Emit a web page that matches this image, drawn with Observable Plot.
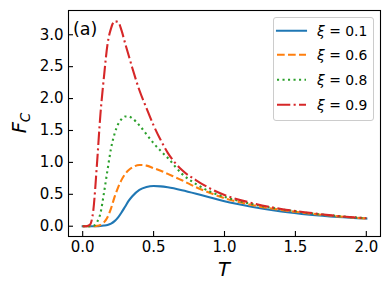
<!DOCTYPE html>
<html><head><meta charset="utf-8">
<script src="https://cdn.jsdelivr.net/npm/d3@7"></script>
<script src="https://cdn.jsdelivr.net/npm/@observablehq/plot@0.6"></script>
<style>
body{margin:0;background:#fff}
#wrap{position:relative;width:390px;height:290px;font-family:"DejaVu Sans",sans-serif}
#legend{position:absolute;left:272.5px;top:17px;width:101px;height:104px;box-sizing:border-box;border:1px solid #cccccc;border-radius:3px;background:rgba(255,255,255,0.8)}
#legend svg{position:absolute;left:-1px;top:-1px}
</style>
</head><body><div id="wrap"></div>
<script>
const T = [0,0.025,0.05,0.075,0.1,0.125,0.15,0.175,0.2,0.225,0.25,0.275,0.3,0.325,0.35,0.4,0.45,0.5,0.55,0.6,0.7,0.8,0.9,1.0,1.2,1.4,1.6,1.8,2.0];
const xi01 = [0,0,0,0,0,0.003,0.01,0.02,0.04,0.08,0.14,0.22,0.31,0.40,0.47,0.57,0.615,0.63,0.625,0.61,0.565,0.51,0.45,0.39,0.30,0.23,0.18,0.145,0.12];
const xi06 = [0,0,0,0,0.005,0.02,0.06,0.14,0.28,0.46,0.61,0.73,0.82,0.88,0.92,0.96,0.95,0.91,0.87,0.82,0.72,0.61,0.52,0.44,0.33,0.255,0.2,0.155,0.122];
const xi08 = [0,0,0,0.005,0.06,0.2,0.52,0.88,1.22,1.45,1.60,1.68,1.72,1.72,1.69,1.58,1.44,1.30,1.18,1.07,0.82,0.66,0.54,0.46,0.345,0.265,0.205,0.16,0.125];
const xi09 = [0,0,0.02,0.25,0.95,1.75,2.34,2.85,3.10,3.21,3.20,3.06,2.86,2.67,2.48,2.13,1.85,1.58,1.35,1.15,0.88,0.72,0.59,0.49,0.36,0.27,0.21,0.16,0.125];
const seriesLabels = ["0.1","0.6","0.8","0.9"];
const seriesValues = [xi01, xi06, xi08, xi09];
const colors = ["#1f77b4","#ff7f0e","#2ca02c","#d62728"];
const dashes = [null, "7.7,3.3", "2.1,3.4", "13.3,3.3,2.1,3.3"];
const xTicks = [0,0.5,1,1.5,2];
const yTicks = [0,0.5,1,1.5,2,2.5,3];

const W = 390, H = 290, mL = 68, mR = 10, mT = 10, mB = 54;
const innerW = W - mL - mR, innerH = H - mT - mB;

const lineMarks = seriesValues.map((vals, i) =>
  Plot.line(T.map((t, j) => ({T: t, F: vals[j]})), {
    x: "T", y: "F", stroke: colors[i], strokeWidth: 2.1,
    strokeDasharray: dashes[i] || undefined, strokeLinecap: dashes[i] ? "butt" : "square",
    curve: "monotone-x"
  })
);

const chart = Plot.plot({
  width: W, height: H,
  marginLeft: mL, marginRight: mR, marginTop: mT, marginBottom: mB,
  style: {fontFamily: "DejaVu Sans", color: "black", background: "white"},
  x: {domain: [-0.1, 2.1]},
  y: {domain: [-0.161, 3.38]},
  marks: [
    ...lineMarks,
    Plot.frame({stroke: "black", strokeWidth: 1.1}),
    Plot.tickX(xTicks, {x: d => d, insetTop: innerH - 5, stroke: "black", strokeWidth: 1.1}),
    Plot.tickY(yTicks, {y: d => d, insetRight: innerW - 5, stroke: "black", strokeWidth: 1.1}),
    Plot.axisX({ticks: xTicks, tickSize: 0, tickPadding: 5, tickFormat: d3.format(".1f"), label: null, fontSize: 15}),
    Plot.axisY({ticks: yTicks, tickSize: 0, tickPadding: 5, tickFormat: d3.format(".1f"), label: null, fontSize: 15}),
    Plot.text(["(a)"], {frameAnchor: "top-left", dx: 4.5, dy: 19, textAnchor: "start", lineAnchor: "middle", fontSize: 17.5, fill: "black"})
  ]
});

const wrap = document.getElementById("wrap");
wrap.appendChild(chart);
const svg = d3.select(chart);
svg.append("text").attr("x", mL + innerW / 2).attr("y", 276)
  .attr("text-anchor", "middle").attr("font-size", 19.5).attr("font-style", "italic")
  .attr("font-family", "DejaVu Sans").attr("fill", "black").text("T");
const yl = svg.append("text").attr("transform", `translate(26,${mT + innerH / 2}) rotate(-90)`)
  .attr("text-anchor", "middle").attr("font-size", 19.5).attr("font-style", "italic")
  .attr("font-family", "DejaVu Sans").attr("fill", "black");
yl.append("tspan").text("F");
yl.append("tspan").attr("font-size", 13.6).attr("dy", 4).text("C");

const leg = d3.select(wrap).append("div").attr("id", "legend");
const lsvg = leg.append("svg").attr("width", 101).attr("height", 104);
const rows = [13.7, 37.7, 62.7, 87.7];
seriesLabels.forEach((lab, i) => {
  lsvg.append("line").attr("x1", 4).attr("x2", 33).attr("y1", rows[i]).attr("y2", rows[i])
    .attr("stroke", colors[i]).attr("stroke-width", 2.1)
    .attr("stroke-dasharray", dashes[i]).attr("stroke-linecap", dashes[i] ? "butt" : "square");
  const t = lsvg.append("text").attr("x", 44).attr("y", rows[i] + 5).attr("font-size", 13.9)
    .attr("font-family", "DejaVu Sans").attr("fill", "black");
  t.append("tspan").attr("font-style", "italic").text("ξ");
  t.append("tspan").text(" = " + lab);
});
</script>
</body></html>
